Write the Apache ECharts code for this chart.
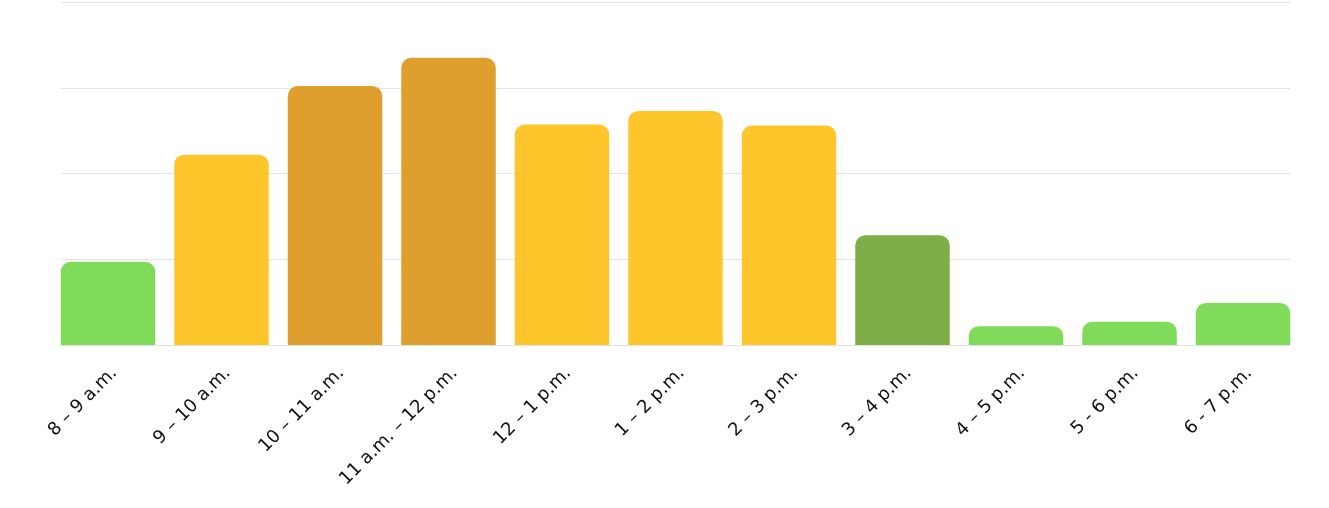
<!DOCTYPE html>
<html>
<head>
<meta charset="utf-8">
<script src="https://cdn.jsdelivr.net/npm/echarts@6/dist/echarts.min.js"></script>
<style>
  html, body { margin: 0; padding: 0; background: #fff; }
  #container { width: 1329px; height: 508px; }
</style>
</head>
<body>
<div id="container"></div>
<script>
// hours of the day (x axis)
var hours = ['8 – 9 a.m.', '9 – 10 a.m.', '10 – 11 a.m.', '11 a.m. – 12 p.m.', '12 – 1 p.m.',
  '1 – 2 p.m.', '2 – 3 p.m.', '3 – 4 p.m.', '4 – 5 p.m.', '5 - 6 p.m.', '6 - 7 p.m.'];
// how busy each hour is
var busy = [0.97, 2.22, 3.02, 3.35, 2.57, 2.73, 2.56, 1.28, 0.22, 0.27, 0.49];
// busyness level of each hour
var level = ['low', 'mid', 'high', 'high', 'mid', 'mid', 'mid', 'now', 'low', 'low', 'low'];
// y gridlines
var yMin = 0, yMax = 4, yStep = 1;

var levelColor = { low: '#80DB5A', mid: '#FEC62B', high: '#DF9F2E', now: '#7FAD47' };

var dom = document.getElementById('container');
var myChart = echarts.init(dom);

var barData = [];
for (var i = 0; i < busy.length; i++) {
  barData.push({ value: busy[i], itemStyle: { color: levelColor[level[i]] } });
}

var option = {
  animation: false,
  grid: [
    // gridlines only
    { left: 61, right: 39, top: 2, bottom: 163 },
    // bars
    { left: 51.25, right: 29.25, top: 2, bottom: 163 }
  ],
  xAxis: [
    { gridIndex: 0, type: 'category', data: hours, show: false },
    {
      gridIndex: 1,
      type: 'category',
      data: hours,
      axisLine: { show: false },
      axisTick: { show: false },
      axisLabel: {
        interval: 0,
        rotate: 45,
        margin: 19,
        verticalAlign: 'top',
        fontSize: 18,
        fontFamily: 'DejaVu Sans',
        color: '#111'
      }
    }
  ],
  yAxis: [
    {
      gridIndex: 0, type: 'value', min: yMin, max: yMax, interval: yStep,
      axisLabel: { show: false }, axisLine: { show: false }, axisTick: { show: false },
      splitLine: { lineStyle: { color: '#e3e3e3', width: 1 } }
    },
    {
      gridIndex: 1, type: 'value', min: yMin, max: yMax, interval: yStep,
      show: false, splitLine: { show: false }
    }
  ],
  series: [
    {
      type: 'bar',
      xAxisIndex: 1,
      yAxisIndex: 1,
      data: barData,
      barWidth: 94.5,
      itemStyle: { borderRadius: [10, 10, 0, 0] }
    }
  ]
};
myChart.setOption(option, true);
</script>
</body>
</html>
